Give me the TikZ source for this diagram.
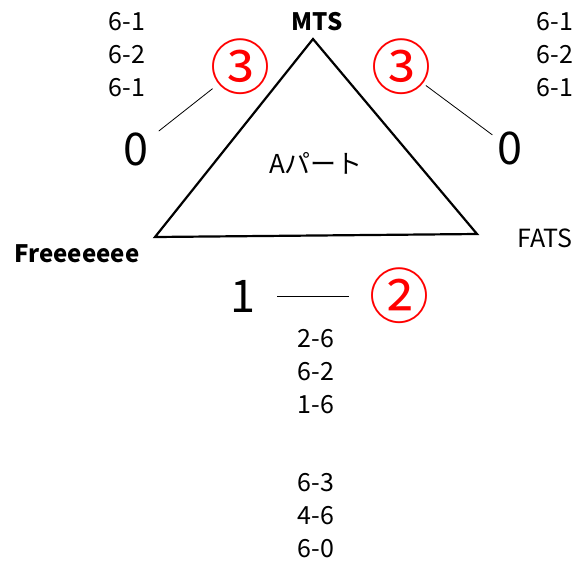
\documentclass[tikz,border=0pt]{standalone}
\usepackage{fontspec}
\setmainfont{Noto Sans CJK JP}
\usetikzlibrary{positioning}

\begin{document}
\begin{tikzpicture}[x=1pt,y=-1pt]
                    \tikzstyle{every node}+=[inner sep=0pt]
                    \tikzstyle{score}=[font=\fontsize{45}{45}\selectfont]
                    \tikzstyle{games}=[font=\fontsize{25}{33}\selectfont, align=center]
                    \tikzstyle{rankmark}=[red, font=\fontsize{60}{60}\selectfont]
                    \tikzstyle{team}=[font=\fontsize{25}{25}\selectfont]
                    \tikzstyle{link}=[black, line width=0.8pt]
                    \useasboundingbox (0,0) rectangle (580,563);
                    % triangle
                    \coordinate (mts) at (313,39);
                    \coordinate (free) at (155,237);
                    \coordinate (fats) at (477,234);
                    \draw [black, line width=2.2pt] (mts) -- (fats) -- (free) -- cycle;
                    \node (partname) at (316,163) {\fontsize{26}{26}\selectfont Aパート};
                    \node [team, font=\fontsize{24}{24}\selectfont\bfseries] (mtsname) at (317,22) {MTS};
                    \node [team, font=\fontsize{24}{24}\selectfont\bfseries] (freename) at (77,254) {Freeeeeee};
                    \node [team] (fatsname) at (545,238) {FATS};
                    % left match
                    \node [games] (setsa) at (127,55) {6-1\\6-2\\6-1};
                    \node [score] (scorea) at (136,149) {0};
                    \node [rankmark] (ranka) at (240,67) {③};
                    \draw [link, shorten <=29pt, shorten >=35pt] (scorea.center) -- (ranka.center);
                    % right match
                    \node [games] (setsb) at (555,55) {6-1\\6-2\\6-1};
                    \node [score] (scoreb) at (510,148) {0};
                    \node [rankmark] (rankb) at (401,67) {③};
                    \draw [link, shorten <=31pt, shorten >=22pt] (rankb.center) -- (scoreb.center);
                    % bottom match
                    \node [score] (scorec) at (243,296) {1};
                    \node [rankmark] (rankc) at (399,296) {②};
                    \draw [link, shorten <=34pt, shorten >=50pt] (scorec.center) -- (rankc.center);
                    \node [games] (setsc) at (316,372) {2-6\\6-2\\1-6};
                    \node [games] (setsd) at (316,516) {6-3\\4-6\\6-0};
                \end{tikzpicture}
\end{document}
